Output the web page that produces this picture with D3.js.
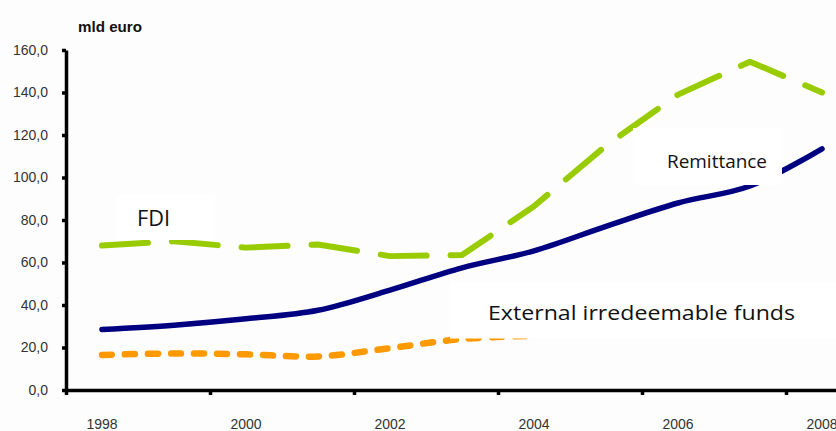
<!DOCTYPE html>
<html>
<head>
<meta charset="utf-8">
<script src="https://cdn.jsdelivr.net/npm/d3@7"></script>
<style>
  html, body { margin: 0; padding: 0; background: #fdfdfd; }
  svg { display: block; }
</style>
</head>
<body>
<div id="main_output"></div>
<script>
// values (mld euro)
var years = ["1998","1999","2000","2001","2002","2003","2004","2005","2006","2007","2008"];
var fdi = [68, 70, 67, 68.5, 63, 63.5, 86.5, 115, 139, 154.5, 140];
var remittance = [28.5, 30.5, 33.5, 37.5, 47, 57.5, 65.5, 77, 88, 96, 113.5];
var externalFunds = [16.5, 17.2, 16.8, 15.8, 19.7, 24, 25.5];
var yTicks = [0, 20, 40, 60, 80, 100, 120, 140, 160];
var xLabelYears = ["1998","2000","2002","2004","2006","2008"];

const navy = "#000080";
const green = "#99cc00";
const orange = "#ff9900";

var width = 836, height = 431;
const margin = {top: 50, left: 66, bottom: 41};

var svg = d3.select("#main_output")
  .append("svg")
  .attr("width", width)
  .attr("height", height)
  .style("background", "#fdfdfd");

// 11 categories, each 72px wide; the right part runs off the picture
const x = d3.scaleBand().domain(years).range([margin.left, margin.left + 72 * years.length]).padding(0),
      xEdge = d3.scaleLinear().domain([0, years.length]).range([margin.left, margin.left + 72 * years.length]),
      y = d3.scaleLinear().domain([0, 160]).range([height - margin.bottom, margin.top]);

function cx(i) { return x(years[i]) + x.bandwidth() / 2; }

var line = d3.line()
  .x(function(d, i) { return cx(i); })
  .y(function(d) { return y(d); });

var smooth = d3.line()
  .x(function(d, i) { return cx(i); })
  .y(function(d) { return y(d); })
  .curve(d3.curveCatmullRom.alpha(0.5));

var plot = svg.append("g").attr("class", "plot");

plot.append("path")
  .datum(externalFunds)
  .attr("fill", "none")
  .attr("stroke", orange)
  .attr("stroke-width", 6.5)
  .attr("stroke-linecap", "round")
  .attr("stroke-dasharray", "10,13")
  .attr("d", smooth);

plot.append("path")
  .datum(remittance)
  .attr("fill", "none")
  .attr("stroke", navy)
  .attr("stroke-width", 5.5)
  .attr("stroke-linecap", "round")
  .attr("d", smooth);

plot.append("path")
  .datum(fdi)
  .attr("fill", "none")
  .attr("stroke", green)
  .attr("stroke-width", 6)
  .attr("stroke-linecap", "round")
  .attr("stroke-linejoin", "round")
  .attr("stroke-dasharray", "46,24")
  .attr("d", line);

// series labels sit on white boxes that hide part of the lines
var labelFont = "'Open Sans', 'Noto Sans', sans-serif";
var seriesLabels = [
  {text: "FDI", box: [117, 195, 98, 45], tx: 137, ty: 226, size: 22, len: 33},
  {text: "Remittance", box: [633, 128, 149, 57], tx: 667, ty: 168, size: 19, len: 100},
  {text: "External irredeemable funds", box: [450, 283, 400, 55.5], tx: 488, ty: 320, size: 20, len: 307}
];

var lab = svg.append("g").attr("class", "labels")
  .selectAll("g").data(seriesLabels).enter().append("g");

lab.append("rect")
  .attr("x", function(d) { return d.box[0]; })
  .attr("y", function(d) { return d.box[1]; })
  .attr("width", function(d) { return d.box[2]; })
  .attr("height", function(d) { return d.box[3]; })
  .attr("fill", "#ffffff");

lab.append("text")
  .attr("x", function(d) { return d.tx; })
  .attr("y", function(d) { return d.ty; })
  .attr("font-family", labelFont)
  .attr("font-size", function(d) { return d.size + "px"; })
  .attr("textLength", function(d) { return d.len; })
  .attr("lengthAdjust", "spacingAndGlyphs")
  .attr("fill", "#111")
  .text(function(d) { return d.text; });

// axes
var fmt = function(v) { return d3.format(".1f")(v).replace(".", ","); };

var yAxis = svg.append("g")
  .attr("transform", "translate(" + margin.left + ",0)")
  .call(d3.axisLeft(y).tickValues(yTicks).tickFormat(fmt).tickSize(4).tickSizeOuter(0).tickPadding(14));

yAxis.select(".domain").attr("stroke", "#000").attr("stroke-width", 3.5);
yAxis.selectAll(".tick line").attr("stroke", "#000").attr("stroke-width", 3.5);
yAxis.selectAll("text")
  .attr("font-family", "'Liberation Sans', Arial, sans-serif")
  .attr("font-size", "14px")
  .attr("fill", "#333");

var xTickAxis = svg.append("g")
  .attr("transform", "translate(0," + y(0) + ")")
  .call(d3.axisBottom(xEdge).tickValues([0, 2, 4, 6, 8, 10]).tickFormat("").tickSize(5).tickSizeOuter(0));

xTickAxis.select(".domain").attr("stroke", "#000").attr("stroke-width", 3.5);
xTickAxis.selectAll(".tick line").attr("stroke", "#000").attr("stroke-width", 3.5);

var xAxis = svg.append("g")
  .attr("transform", "translate(0," + y(0) + ")")
  .call(d3.axisBottom(x).tickValues(xLabelYears).tickSize(0).tickPadding(29));

xAxis.select(".domain").remove();
xAxis.selectAll("text")
  .attr("font-family", "'Liberation Sans', Arial, sans-serif")
  .attr("font-size", "14px")
  .attr("fill", "#333");

svg.append("text")
  .attr("x", 78)
  .attr("y", 32)
  .attr("font-family", "'Liberation Sans', Arial, sans-serif")
  .attr("font-weight", "bold")
  .attr("font-size", "15px")
  .attr("textLength", 64)
  .attr("lengthAdjust", "spacingAndGlyphs")
  .attr("fill", "#111")
  .text("mld euro");
</script>
</body>
</html>
